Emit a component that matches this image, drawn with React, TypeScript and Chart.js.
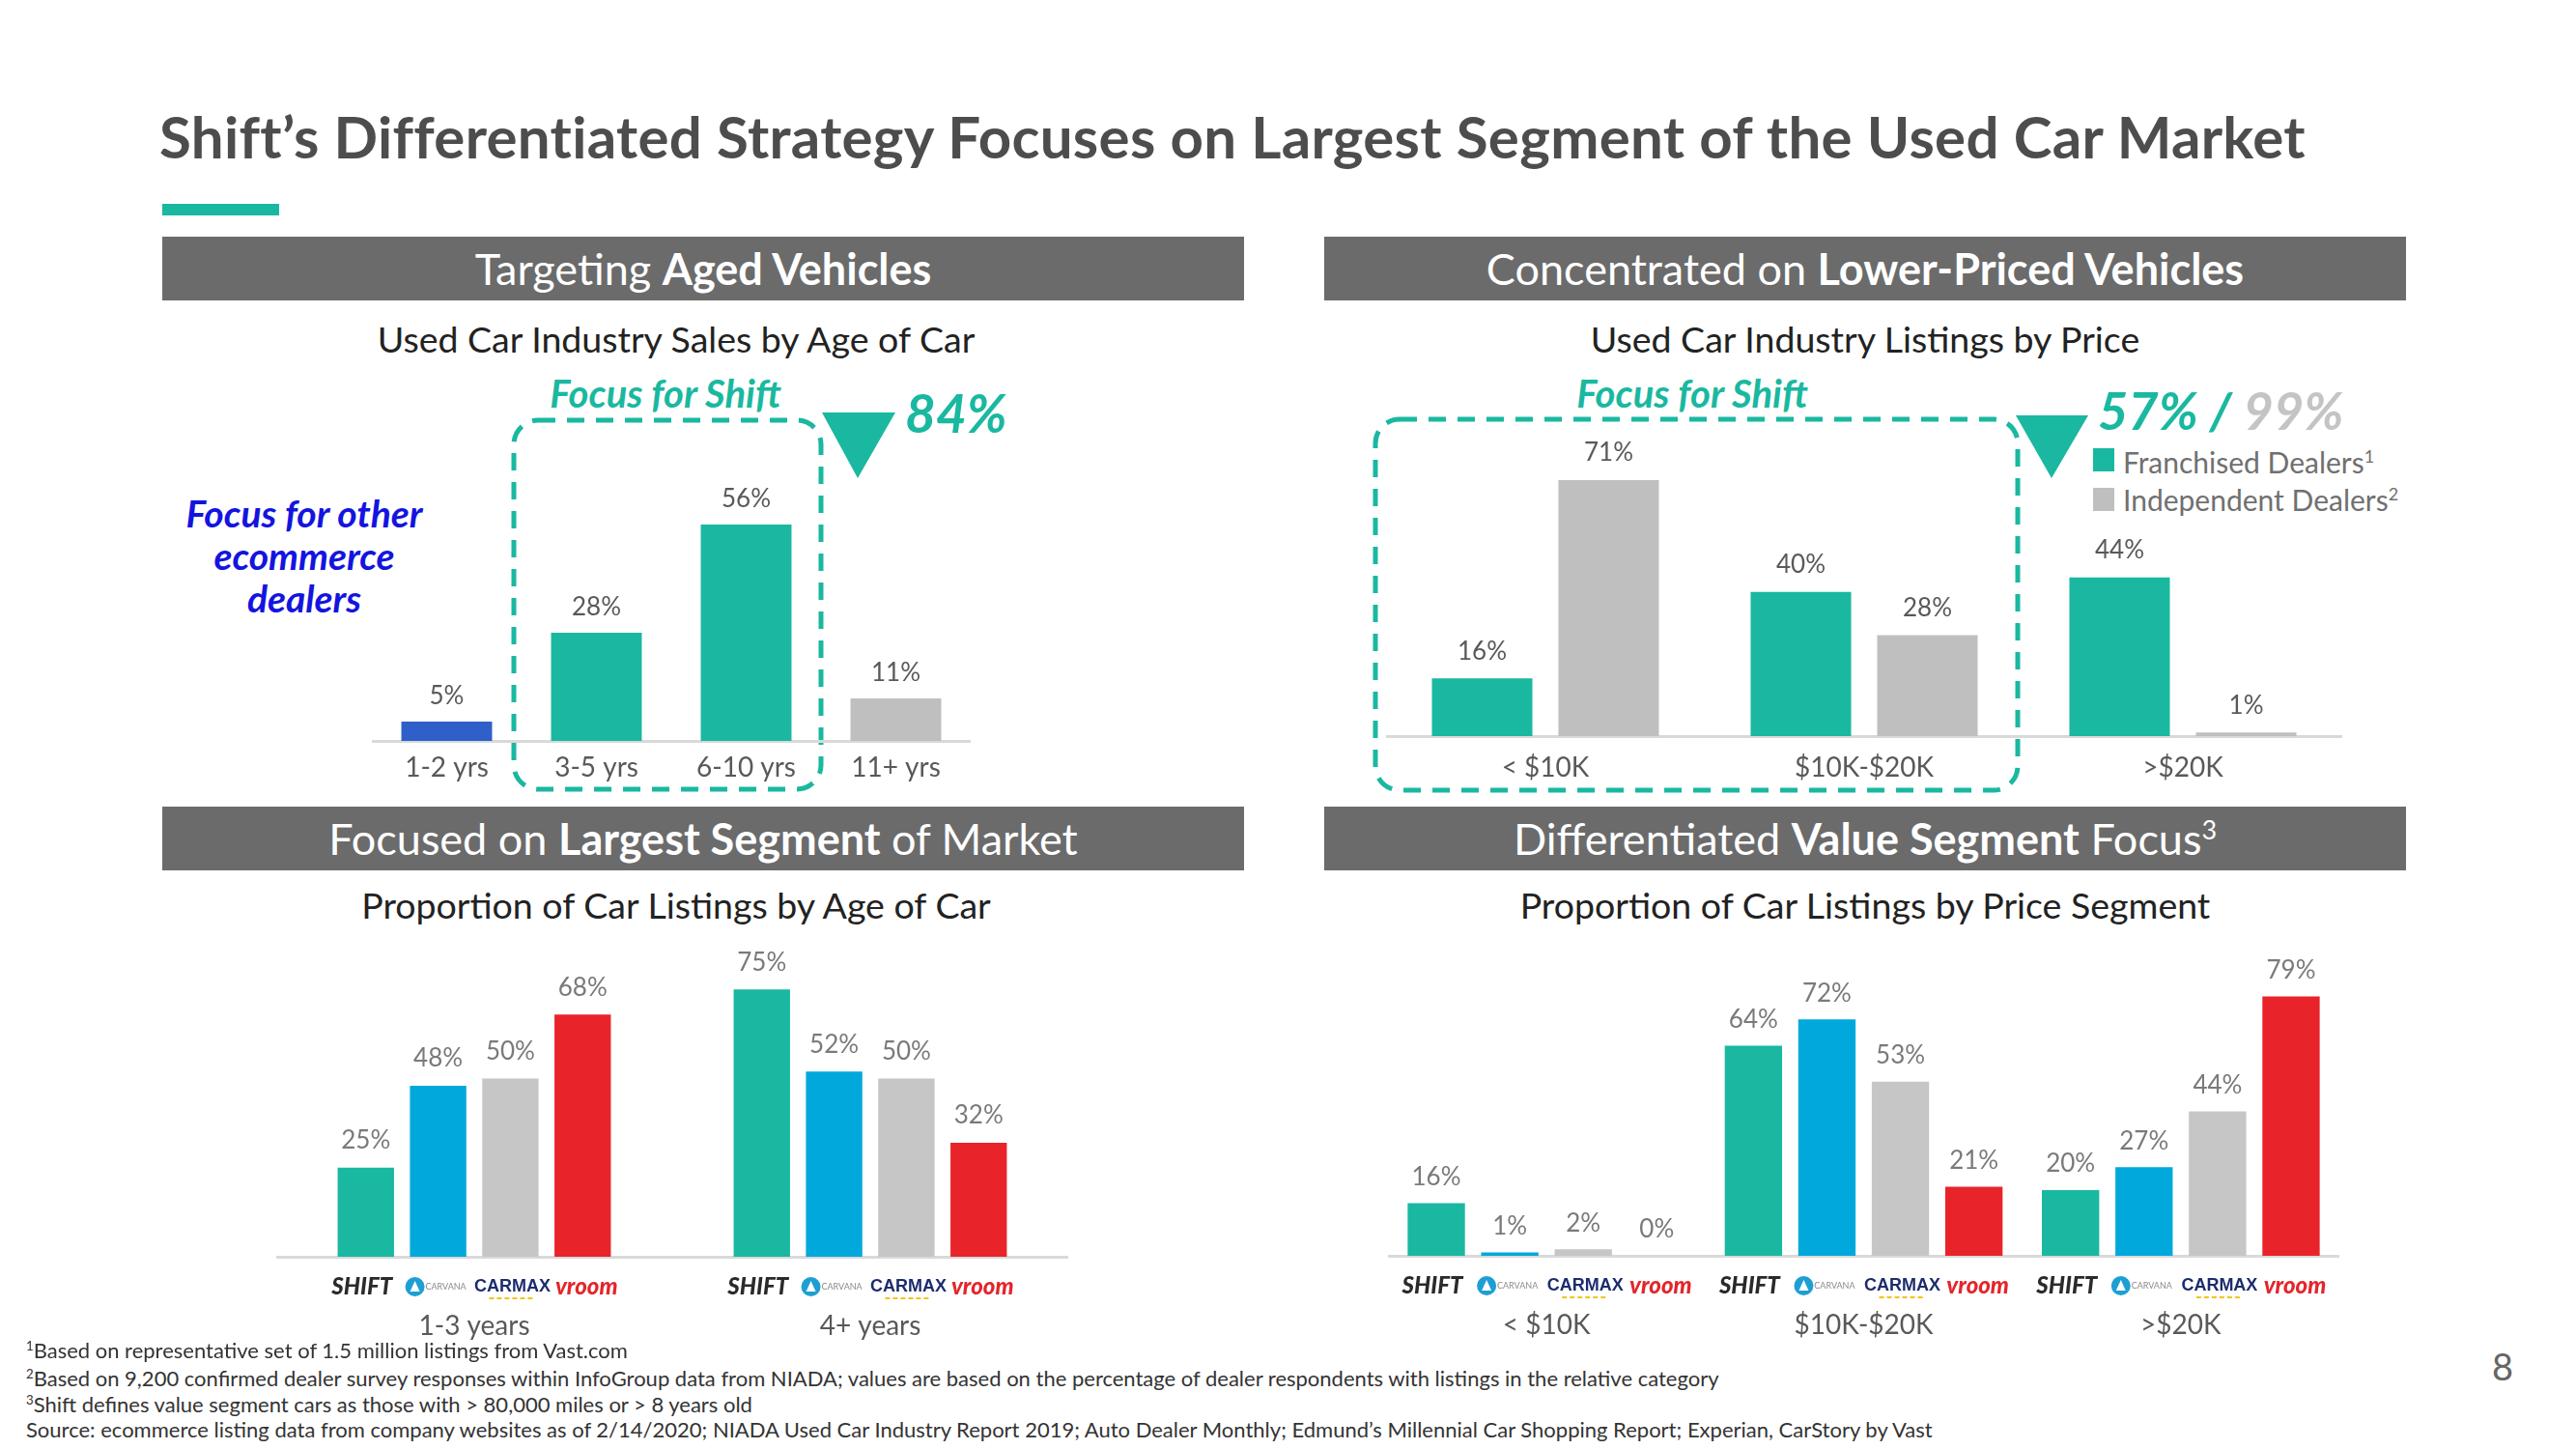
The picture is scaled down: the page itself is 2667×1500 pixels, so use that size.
import React, { useEffect, useRef } from 'react';
import { Chart, registerables } from 'chart.js';

Chart.register(...registerables);

// ---------- DATA ----------
const ageCategories = ['1-2 yrs', '3-5 yrs', '6-10 yrs', '11+ yrs'];
const ageSalesValues = [5, 28, 56, 11];

const priceCategories = ['< $10K', '$10K-$20K', '>$20K'];
const franchisedValues = [16, 40, 44];
const independentValues = [71, 28, 1];

const listingAgeCategories = ['1-3 years', '4+ years'];
const shiftAge = [25, 75];
const carvanaAge = [48, 52];
const carmaxAge = [50, 50];
const vroomAge = [68, 32];

const segmentCategories = ['< $10K', '$10K-$20K', '>$20K'];
const shiftSeg = [16, 64, 20];
const carvanaSeg = [1, 72, 27];
const carmaxSeg = [2, 53, 44];
const vroomSeg = [0, 21, 79];

const companies = ['Shift', 'Carvana', 'CarMax', 'Vroom'];

// ---------- STYLE ----------
const TEAL = '#1ab8a0';
const DARKBLUE = '#2f5fc8';
const GRAY = '#bfbfbf';
const CARVANA = '#00a8dc';
const CARMAX_GRAY = '#c6c6c6';
const RED = '#e8242a';
const HEADER = '#6b6b6b';
const FONT = 'Lato';

const valueLabelPlugin = (offset: number, color: string) => ({
  id: 'valueLabels',
  afterDatasetsDraw(chart: any) {
    const ctx = chart.ctx;
    ctx.save();
    ctx.font = `26px ${FONT}`;
    ctx.fillStyle = color;
    ctx.textAlign = 'center';
    ctx.textBaseline = 'middle';
    chart.data.datasets.forEach((ds: any, i: number) => {
      const meta = chart.getDatasetMeta(i);
      meta.data.forEach((el: any, j: number) => {
        ctx.fillText(`${ds.data[j]}%`, el.x, el.y - offset);
      });
    });
    ctx.restore();
  },
});

function drawLogo(ctx: CanvasRenderingContext2D, name: string, x: number, y: number) {
  ctx.save();
  ctx.textBaseline = 'middle';
  ctx.textAlign = 'center';
  if (name === 'Shift') {
    ctx.font = `italic 900 24px ${FONT}`;
    ctx.fillStyle = '#2a2a2a';
    ctx.fillText('SHIFT', x - 4, y);
  } else if (name === 'Carvana') {
    ctx.fillStyle = '#1e9fd4';
    ctx.beginPath();
    ctx.arc(x - 24, y, 10, 0, Math.PI * 2);
    ctx.fill();
    ctx.fillStyle = '#ffffff';
    ctx.beginPath();
    ctx.moveTo(x - 24, y - 6);
    ctx.lineTo(x - 19, y + 5);
    ctx.lineTo(x - 29, y + 5);
    ctx.closePath();
    ctx.fill();
    ctx.font = `9px ${FONT}`;
    ctx.fillStyle = '#8a8a8a';
    ctx.fillText('CARVANA', x + 8, y);
  } else if (name === 'CarMax') {
    ctx.font = `bold 18px Arial`;
    ctx.fillStyle = '#1c2c6e';
    ctx.fillText('CARMAX', x + 2, y);
    ctx.fillStyle = '#f0c419';
    for (let k = 0; k < 6; k++) ctx.fillRect(x - 22 + k * 8, y + 11, 5, 2);
  } else {
    ctx.font = `italic 900 24px ${FONT}`;
    ctx.fillStyle = '#e3262b';
    ctx.fillText('vroom', x + 4, y);
  }
  ctx.restore();
}

const logoPlugin = {
  id: 'logos',
  afterDatasetsDraw(chart: any) {
    const ctx = chart.ctx;
    const bottom = chart.chartArea.bottom;
    chart.data.datasets.forEach((_ds: any, i: number) => {
      const meta = chart.getDatasetMeta(i);
      meta.data.forEach((el: any) => drawLogo(ctx, companies[i], el.x, bottom + 31));
    });
  },
};

type DS = { label: string; data: number[]; color: string | string[] };

function BarChart(props: {
  left: number; top: number; width: number; height: number; padTop: number; axisH: number;
  yMax: number; labels: string[]; datasets: DS[]; catPct: number; barPct: number;
  tickPad: number; labelOffset: number; labelColor: string; logos?: boolean;
}) {
  const ref = useRef<HTMLCanvasElement>(null);
  useEffect(() => {
    const p = props;
    const chart = new Chart(ref.current as HTMLCanvasElement, {
      type: 'bar',
      data: {
        labels: p.labels,
        datasets: p.datasets.map((d) => ({
          label: d.label,
          data: d.data,
          backgroundColor: d.color as any,
          borderWidth: 0,
          categoryPercentage: p.catPct,
          barPercentage: p.barPct,
        })),
      },
      options: {
        animation: false,
        responsive: false,
        maintainAspectRatio: false,
        layout: { padding: { top: p.padTop, left: 0, right: 0, bottom: 0 } },
        plugins: { legend: { display: false }, tooltip: { enabled: false } },
        scales: {
          x: {
            grid: { display: false, drawTicks: false },
            border: { display: true, color: '#d9d9d9', width: 3 },
            ticks: {
              font: { family: FONT, size: 28 },
              color: '#595959',
              padding: p.tickPad,
              autoSkip: false,
              maxRotation: 0,
            },
            afterFit: (s: any) => { s.height = p.axisH; },
          },
          y: { display: false, min: 0, max: p.yMax },
        },
      } as any,
      plugins: [valueLabelPlugin(p.labelOffset, p.labelColor), ...(p.logos ? [logoPlugin] : [])] as any,
    });
    return () => chart.destroy();
  }, []);
  return (
    <canvas
      ref={ref}
      width={props.width}
      height={props.height}
      style={{ position: 'absolute', left: props.left, top: props.top, width: props.width, height: props.height }}
    />
  );
}

function T(props: {
  x: number; y: number; size: number; children: React.ReactNode; align?: 'left' | 'center' | 'right';
  weight?: number; italic?: boolean; color?: string; style?: React.CSSProperties;
}) {
  const { x, y, size, children, align = 'left', weight = 400, italic = false, color = '#333', style = {} } = props;
  const tx = align === 'center' ? '-50%' : align === 'right' ? '-100%' : '0';
  return (
    <div
      style={{
        position: 'absolute', left: x, top: y, transform: `translate(${tx}, -50%)`, fontSize: size,
        lineHeight: 1.2, fontWeight: weight, fontStyle: italic ? 'italic' : 'normal', color,
        fontFamily: FONT, whiteSpace: 'nowrap', ...style,
      }}
    >
      {children}
    </div>
  );
}

function Header(props: { left: number; top: number; children: React.ReactNode }) {
  return (
    <div
      style={{
        position: 'absolute', left: props.left, top: props.top, width: 1120, height: 66, background: HEADER,
        color: '#ffffff', fontFamily: FONT, fontSize: 45, lineHeight: '66px', textAlign: 'center', whiteSpace: 'nowrap',
      }}
    >
      {props.children}
    </div>
  );
}

const sup: React.CSSProperties = { fontSize: '0.6em', verticalAlign: '0.6em', lineHeight: 0 };

export default function App() {
  return (
    <div style={{ position: 'absolute', left: 0, top: 0, width: 2667, height: 1500, background: '#ffffff', overflow: 'hidden', fontFamily: FONT }}>
      <T x={165} y={141} size={60} weight={700} color="#4d4d4d" style={{ letterSpacing: 0.3 }}>
        Shift’s Differentiated Strategy Focuses on Largest Segment of the Used Car Market
      </T>
      <div style={{ position: 'absolute', left: 168, top: 211, width: 121, height: 12, background: TEAL }} />

      <Header left={168} top={245}>Targeting <b>Aged Vehicles</b></Header>
      <Header left={1371} top={245}>Concentrated on <b>Lower-Priced Vehicles</b></Header>
      <Header left={168} top={835}>Focused on <b>Largest Segment</b> of Market</Header>
      <Header left={1371} top={835}>Differentiated <b>Value Segment</b> Focus<span style={sup}>3</span></Header>

      <T x={700} y={350} size={37.5} align="center" color="#222">Used Car Industry Sales by Age of Car</T>
      <T x={1931} y={350} size={37.5} align="center" color="#222">Used Car Industry Listings by Price</T>
      <T x={700} y={936} size={37.5} align="center" color="#222">Proportion of Car Listings by Age of Car</T>
      <T x={1931} y={936} size={37.5} align="center" color="#222">Proportion of Car Listings by Price Segment</T>

      <svg width={2667} height={1500} style={{ position: 'absolute', left: 0, top: 0 }}>
        <rect x={532} y={435} width={318} height={382} rx={25} fill="none" stroke={TEAL} strokeWidth={5} strokeDasharray="18 12" />
        <rect x={1424} y={434} width={665} height={384} rx={25} fill="none" stroke={TEAL} strokeWidth={5} strokeDasharray="18 12" />
        <polygon points="851,427 927,427 888,495" fill={TEAL} />
        <polygon points="2087,430 2162,430 2124,495" fill={TEAL} />
        <rect x={2167} y={464} width={22} height={24} fill={TEAL} />
        <rect x={2167} y={505} width={22} height={24} fill={GRAY} />
      </svg>

      <T x={689} y={407} size={40} align="center" weight={700} italic color={TEAL}>Focus for Shift</T>
      <T x={1752} y={407} size={40} align="center" weight={700} italic color={TEAL}>Focus for Shift</T>
      <T x={937} y={427} size={55} weight={700} italic color={TEAL}>84%</T>
      <T x={2172} y={425} size={54} weight={700} italic color={TEAL}>
        57% / <span style={{ color: '#c4c4c4' }}>99%</span>
      </T>
      <T x={2198} y={478} size={30} color="#707070">Franchised Dealers<span style={sup}>1</span></T>
      <T x={2198} y={517} size={30} color="#707070">Independent Dealers<span style={sup}>2</span></T>

      <div
        style={{
          position: 'absolute', left: 315, top: 575, transform: 'translate(-50%, -50%)', textAlign: 'center',
          fontFamily: FONT, fontSize: 39, lineHeight: '44px', fontWeight: 700, fontStyle: 'italic', color: '#1414e0', whiteSpace: 'nowrap',
        }}
      >
        Focus for other<br />ecommerce<br />dealers
      </div>

      <BarChart
        left={385} top={380} width={620} height={447} padTop={60} axisH={60} yMax={81.75}
        labels={ageCategories}
        datasets={[{ label: 'Sales', data: ageSalesValues, color: [DARKBLUE, TEAL, TEAL, GRAY] }]}
        catPct={1} barPct={0.606} tickPad={11} labelOffset={26} labelColor="#595959"
      />
      <BarChart
        left={1435} top={380} width={990} height={442} padTop={60} axisH={60} yMax={86.3}
        labels={priceCategories}
        datasets={[
          { label: 'Franchised Dealers', data: franchisedValues, color: TEAL },
          { label: 'Independent Dealers', data: independentValues, color: GRAY },
        ]}
        catPct={0.794} barPct={0.794} tickPad={16} labelOffset={28} labelColor="#595959"
      />
      <BarChart
        left={286} top={930} width={820} height={471} padTop={60} axisH={100} yMax={84.3}
        labels={listingAgeCategories}
        datasets={[
          { label: 'Shift', data: shiftAge, color: TEAL },
          { label: 'Carvana', data: carvanaAge, color: CARVANA },
          { label: 'CarMax', data: carmaxAge, color: CARMAX_GRAY },
          { label: 'Vroom', data: vroomAge, color: RED },
        ]}
        catPct={0.73} barPct={0.78} tickPad={55} labelOffset={28} labelColor="#7a7a7a" logos
      />
      <BarChart
        left={1437} top={960} width={985} height={440} padTop={60} axisH={100} yMax={82.35}
        labels={segmentCategories}
        datasets={[
          { label: 'Shift', data: shiftSeg, color: TEAL },
          { label: 'Carvana', data: carvanaSeg, color: CARVANA },
          { label: 'CarMax', data: carmaxSeg, color: CARMAX_GRAY },
          { label: 'Vroom', data: vroomSeg, color: RED },
        ]}
        catPct={0.927} barPct={0.78} tickPad={55} labelOffset={27} labelColor="#7a7a7a" logos
      />

      <T x={27} y={1398} size={22} color="#333"><span style={sup}>1</span>Based on representative set of 1.5 million listings from Vast.com</T>
      <T x={27} y={1427} size={22} color="#333"><span style={sup}>2</span>Based on 9,200 confirmed dealer survey responses within InfoGroup data from NIADA; values are based on the percentage of dealer respondents with listings in the relative category</T>
      <T x={27} y={1454} size={22} color="#333"><span style={sup}>3</span>Shift defines value segment cars as those with &gt; 80,000 miles or &gt; 8 years old</T>
      <T x={27} y={1480} size={22} color="#333">Source: ecommerce listing data from company websites as of 2/14/2020; NIADA Used Car Industry Report 2019; Auto Dealer Monthly; Edmund’s Millennial Car Shopping Report; Experian, CarStory by Vast</T>
      <T x={2591} y={1415} size={38} align="center" color="#666">8</T>
    </div>
  );
}
